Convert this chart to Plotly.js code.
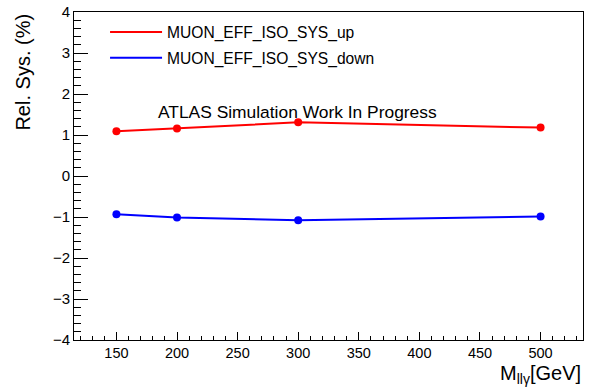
<!DOCTYPE html>
<html>
<head>
<meta charset="utf-8">
<script src="https://cdn.plot.ly/plotly-3.0.1.min.js"></script>
<style>html,body{margin:0;padding:0;background:#fff;}#chart{width:593px;height:392px;}</style>
</head>
<body>
<div id="chart"></div>
<script>
var massPoints = [150, 200, 300, 500];
var sysUp = [1.09, 1.16, 1.31, 1.18];
var sysDown = [-0.93, -1.01, -1.08, -0.99];
var seriesNames = ["MUON_EFF_ISO_SYS_up", "MUON_EFF_ISO_SYS_down"];
var xTickVals = [150, 200, 250, 300, 350, 400, 450, 500];
var yTickVals = [-4, -3, -2, -1, 0, 1, 2, 3, 4];

var font = "Liberation Sans, Arial, sans-serif";

var traces = [
  {x: massPoints, y: sysUp, mode: "lines+markers", name: seriesNames[0], showlegend: false,
   line: {color: "#ff0000", width: 2}, marker: {color: "#ff0000", size: 8}},
  {x: massPoints, y: sysDown, mode: "lines+markers", name: seriesNames[1], showlegend: false,
   line: {color: "#0000ff", width: 2}, marker: {color: "#0000ff", size: 8}},
  {x: [null], y: [null], mode: "lines", name: seriesNames[0], showlegend: true, legendgroup: "a",
   line: {color: "#ff0000", width: 2}},
  {x: [null], y: [null], mode: "lines", name: seriesNames[1], showlegend: true, legendgroup: "b",
   line: {color: "#0000ff", width: 2}}
];

var layout = {
  width: 593, height: 392,
  margin: {l: 74, r: 10, t: 12, b: 52},
  paper_bgcolor: "#fff", plot_bgcolor: "#fff",
  font: {family: font, color: "#000"},
  showlegend: true,
  legend: {x: 0.061, y: 0.99, xanchor: "left", yanchor: "top", bgcolor: "rgba(0,0,0,0)",
           font: {family: font, size: 15.6, color: "#000"}, tracegroupgap: 2.5, itemwidth: 52},
  xaxis: {
    range: [115, 535], tickvals: xTickVals, ticks: "inside", ticklen: 8, tickwidth: 1,
    tickcolor: "#000", showgrid: false, zeroline: false, showline: true, linecolor: "#000",
    linewidth: 1, mirror: true, tickfont: {family: font, size: 14.5, color: "#000"},
    minor: {dtick: 10, tick0: 0, ticks: "inside", ticklen: 4, tickcolor: "#000", showgrid: false}
  },
  yaxis: {
    range: [-4, 4], tickvals: yTickVals, ticks: "inside", ticklen: 14, tickwidth: 1,
    tickcolor: "#000", showgrid: false, zeroline: false, showline: true, linecolor: "#000",
    linewidth: 1, mirror: true, tickfont: {family: font, size: 15, color: "#000"},
    minor: {dtick: 0.2, tick0: 0, ticks: "inside", ticklen: 7, tickcolor: "#000", showgrid: false}
  },
  annotations: [
    {text: "Rel. Sys. (%)", xref: "paper", yref: "paper", x: -0.102, y: 1, xanchor: "center",
     yanchor: "top", textangle: -90, showarrow: false, font: {family: font, size: 20, color: "#000"}},
    {text: "M<sub>llγ</sub>[GeV]", xref: "paper", yref: "paper", x: 1, y: -0.062, xanchor: "right",
     yanchor: "top", showarrow: false, font: {family: font, size: 20, color: "#000"}},
    {text: "ATLAS Simulation Work In Progress", xref: "paper", yref: "paper", x: 0.162, y: 0.695,
     xanchor: "left", yanchor: "middle", showarrow: false, font: {family: font, size: 17.4, color: "#000"}}
  ]
};

Plotly.newPlot("chart", traces, layout, {displayModeBar: false, staticPlot: true});
</script>
</body>
</html>
